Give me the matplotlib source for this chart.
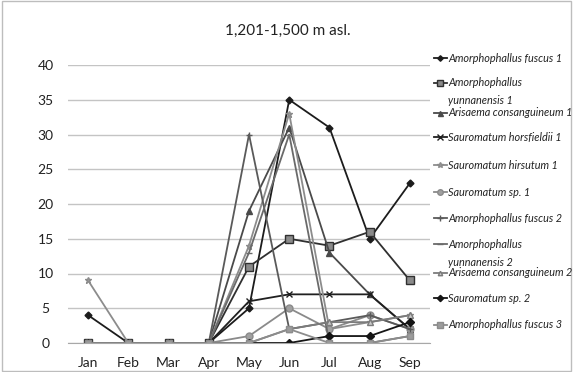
import matplotlib
matplotlib.use("Agg")
import matplotlib.pyplot as plt
from matplotlib.lines import Line2D
from matplotlib.patches import Rectangle

plt.rcParams['font.family'] = ['Lato', 'DejaVu Sans']

months = ["Jan", "Feb", "Mar", "Apr", "May", "Jun", "Jul", "Aug", "Sep"]
series_names = [
    "Amorphophallus fuscus 1",
    "Amorphophallus\nyunnanensis 1",
    "Arisaema consanguineum 1",
    "Sauromatum horsfieldii 1",
    "Sauromatum hirsutum 1",
    "Sauromatum sp. 1",
    "Amorphophallus fuscus 2",
    "Amorphophallus\nyunnanensis 2",
    "Arisaema consanguineum 2",
    "Sauromatum sp. 2",
    "Amorphophallus fuscus 3",
]
am_fuscus_1 = [4, 0, 0, 0, 5, 35, 31, 15, 23]
am_yunnan_1 = [0, 0, 0, 0, 11, 15, 14, 16, 9]
ar_consang_1 = [0, 0, 0, 0, 19, 31, 13, 7, 2]
sa_horsf_1 = [0, 0, 0, 0, 6, 7, 7, 7, 2]
sa_hirsut_1 = [9, 0, 0, 0, 14, 33, 2, 3, 4]
sa_sp_1 = [0, 0, 0, 0, 1, 5, 2, 4, 2]
am_fuscus_2 = [0, 0, 0, 0, 30, 2, 3, 4, 2]
am_yunnan_2 = [0, 0, 0, 0, 13, 30, 0, 0, 1]
ar_consang_2 = [0, 0, 0, 0, 0, 2, 3, 3, 4]
sa_sp_2 = [0, 0, 0, 0, 0, 0, 1, 1, 3]
am_fuscus_3 = [0, 0, 0, 0, 0, 2, 0, 0, 1]
values = [am_fuscus_1, am_yunnan_1, ar_consang_1, sa_horsf_1, sa_hirsut_1, sa_sp_1,
          am_fuscus_2, am_yunnan_2, ar_consang_2, sa_sp_2, am_fuscus_3]

styles = [
    dict(color="#1c1c1c", marker="D", ms=3.5, mfc="#1c1c1c"),
    dict(color="#303030", marker="s", ms=5.5, mfc="#8a8a8a", mec="#303030"),
    dict(color="#4a4a4a", marker="^", ms=4.5, mfc="#4a4a4a"),
    dict(color="#202020", marker="x", ms=5, mew=1.0),
    dict(color="#8c8c8c", marker="*", ms=5, mfc="#9a9a9a"),
    dict(color="#8a8a8a", marker="o", ms=5, mfc="#a0a0a0"),
    dict(color="#5a5a5a", marker="+", ms=5, mew=1.0),
    dict(color="#6a6a6a", marker="_", ms=5),
    dict(color="#7c7c7c", marker="^", ms=4, mfc="#c8c8c8"),
    dict(color="#151515", marker="D", ms=4, mfc="#151515"),
    dict(color="#8c8c8c", marker="s", ms=5, mfc="#9c9c9c"),
]

fig = plt.figure(figsize=(5.73, 3.72), dpi=100)
fig.patches.append(Rectangle((0.004, 0.004), 0.992, 0.992, transform=fig.transFigure,
                             fill=False, edgecolor="#bdbdbd", lw=1.0))
ax = fig.add_axes([68 / 573, 1 - 343 / 372, (430 - 68) / 573, (343 - 65) / 372])
x = list(range(len(months)))
for vals, st in zip(values, styles):
    ax.plot(x, vals, lw=1.3, **st)

ax.set_xlim(-0.5, 8.5)
ax.set_ylim(0, 40)
ax.set_yticks(range(0, 41, 5))
ax.set_xticks(x)
ax.set_xticklabels(months)
ax.grid(axis="y", color="#c4c4c4", lw=1.0)
ax.set_axisbelow(True)
for s in ["top", "right", "left"]:
    ax.spines[s].set_visible(False)
ax.spines["bottom"].set_color("#a8a8a8")
ax.tick_params(axis="both", length=0, labelsize=10, colors="#222222")
ax.tick_params(axis="x", pad=10)
ax.tick_params(axis="y", pad=16)
for lbl in ax.get_yticklabels():
    lbl.set_horizontalalignment("center")

fig.text(288 / 573, 1 - 31 / 372, "1,201-1,500 m asl.", ha="center", va="center",
         fontsize=11, color="#222222")

ys = [58, 83, 113, 137, 165, 192, 218, 244, 273, 298, 325]
for name, st, yy in zip(series_names, styles, ys):
    yf = 1 - yy / 372
    ln = Line2D([434 / 573, 440 / 573, 447 / 573], [yf, yf, yf], transform=fig.transFigure,
                lw=1.3, markevery=[1], **st)
    ln.set_markersize(st.get("ms", 5) * 0.8)
    fig.add_artist(ln)
    if "\n" in name:
        first, second = name.split("\n")
        fig.text(448 / 573, yf, first, ha="left", va="center", fontsize=7.8,
                 style="italic", color="#222222")
        fig.text(448 / 573, 1 - (yy + 18) / 372, second, ha="left", va="center",
                 fontsize=7.8, style="italic", color="#222222")
    else:
        fig.text(448 / 573, yf, name, ha="left", va="center", fontsize=7.8,
                 style="italic", color="#222222")

fig.savefig("out.png", dpi=100)
